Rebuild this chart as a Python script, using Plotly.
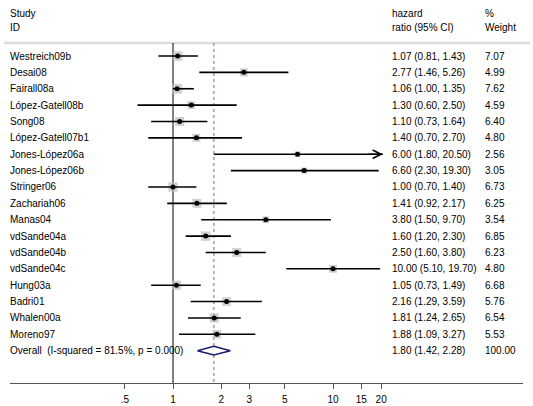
import math
import plotly.graph_objects as go

studies = ["Westreich09b", "Desai08", "Fairall08a", "López-Gatell08b", "Song08",
           "López-Gatell07b1", "Jones-López06a", "Jones-López06b", "Stringer06",
           "Zachariah06", "Manas04", "vdSande04a", "vdSande04b", "vdSande04c",
           "Hung03a", "Badri01", "Whalen00a", "Moreno97"]
hr = [1.07, 2.77, 1.06, 1.30, 1.10, 1.40, 6.00, 6.60, 1.00, 1.41, 3.80, 1.60, 2.50, 10.00,
      1.05, 2.16, 1.81, 1.88]
lo = [0.81, 1.46, 1.00, 0.60, 0.73, 0.70, 1.80, 2.30, 0.70, 0.92, 1.50, 1.20, 1.60, 5.10,
      0.73, 1.29, 1.24, 1.09]
hi = [1.43, 5.26, 1.35, 2.50, 1.64, 2.70, 20.50, 19.30, 1.40, 2.17, 9.70, 2.30, 3.80, 19.70,
      1.49, 3.59, 2.65, 3.27]
weight = [7.07, 4.99, 7.62, 4.59, 6.40, 4.80, 2.56, 3.05, 6.73, 6.25, 3.54, 6.85, 6.23, 4.80,
          6.68, 5.76, 6.54, 5.53]
overall_label = "Overall  (I-squared = 81.5%, p = 0.000)"
overall_hr, overall_lo, overall_hi, overall_w = 1.80, 1.42, 2.28, 100.00
arrow_rows = ["Jones-López06a"]
tick_vals = [0.5, 1, 2, 3, 5, 10, 15, 20]
tick_text = [".5", "1", "2", "3", "5", "10", "15", "20"]

FONT = "Liberation Sans, Arial, sans-serif"
n = len(studies)
rows = list(range(n))
k_over = n
top_line = -0.794
bottom = 19.975

fig = go.Figure()

# reference lines
fig.add_trace(go.Scatter(x=[1, 1], y=[top_line, bottom], mode="lines",
                         line=dict(color="#000000", width=1), hoverinfo="skip", showlegend=False))
fig.add_trace(go.Scatter(x=[overall_hr, overall_hr], y=[top_line, bottom], mode="lines",
                         line=dict(color="#b07482", width=1.2, dash="3px,3px"),
                         hoverinfo="skip", showlegend=False))

# weight boxes
fig.add_trace(go.Scatter(x=hr, y=rows, mode="markers",
                         marker=dict(symbol="square", color="#bdbdbd",
                                     size=[3.6 * math.sqrt(w) for w in weight], line=dict(width=0)),
                         hoverinfo="skip", showlegend=False))

# CI lines
cx, cy = [], []
for i in range(n):
    cx += [lo[i], hi[i], None]
    cy += [i, i, None]
fig.add_trace(go.Scatter(x=cx, y=cy, mode="lines", line=dict(color="#000000", width=1.6),
                         hoverinfo="skip", showlegend=False))

# point estimates
fig.add_trace(go.Scatter(x=hr, y=rows, mode="markers",
                         marker=dict(symbol="circle", color="#000000", size=5),
                         hoverinfo="skip", showlegend=False))

# overall diamond
h = 0.27
fig.add_trace(go.Scatter(x=[overall_lo, overall_hr, overall_hi, overall_hr, overall_lo],
                         y=[k_over, k_over - h, k_over, k_over + h, k_over],
                         mode="lines", fill="toself", fillcolor="#ffffff",
                         line=dict(color="#1a1a6e", width=1.5),
                         hoverinfo="skip", showlegend=False))

ann = []
def px2paper(p):
    return (p - 10) / 513.0

def txt(x, y, s, yref="y"):
    ann.append(dict(x=x, y=y, xref="paper", yref=yref, text=s, showarrow=False,
                    xanchor="left", yanchor="middle", font=dict(family=FONT, size=10, color="#000"),
                    borderpad=0))

# headers
txt(px2paper(9), -2.57, "Study")
txt(px2paper(9), -1.77, "ID")
txt(px2paper(391), -2.57, "hazard")
txt(px2paper(391), -1.77, "ratio (95% CI)")
txt(px2paper(484), -2.57, "%")
txt(px2paper(484), -1.77, "Weight")

for i in range(n):
    txt(px2paper(9), i, studies[i])
    txt(px2paper(391), i, "%.2f (%.2f, %.2f)" % (hr[i], lo[i], hi[i]))
    txt(px2paper(484), i, "%.2f" % weight[i])
txt(px2paper(9), k_over, overall_label)
txt(px2paper(391), k_over, "%.2f (%.2f, %.2f)" % (overall_hr, overall_lo, overall_hi))
txt(px2paper(484), k_over, "%.2f" % overall_w)

# arrows for truncated CIs
for name in arrow_rows:
    i = studies.index(name)
    ann.append(dict(x=math.log10(hi[i]), y=i, xref="x", yref="y",
                    ax=math.log10(hi[i]) - 0.1, ay=i, axref="x", ayref="y",
                    text="", showarrow=True, arrowhead=5, arrowsize=1.1,
                    arrowwidth=1.5, arrowcolor="#000000", standoff=0))

fig.update_layout(
    width=533, height=406,
    margin=dict(l=10, r=10, t=0, b=23),
    paper_bgcolor="#ffffff", plot_bgcolor="#ffffff",
    font=dict(family=FONT, size=10, color="#000"),
    annotations=ann,
    shapes=[dict(type="line", xref="paper", yref="y", x0=-0.012, x1=1.0136,
                 y0=top_line, y1=top_line, line=dict(color="#dcdcdc", width=2.5), layer="below")],
    xaxis=dict(type="log", range=[-1.019, 2.1875], tickvals=tick_vals, ticktext=tick_text,
               showgrid=False, zeroline=False, showline=True, linecolor="#555555", linewidth=1,
               ticks="outside", ticklen=5, tickcolor="#555555", tickwidth=1,
               ticklabelstandoff=2,
               tickfont=dict(family=FONT, size=10, color="#000")),
    yaxis=dict(range=[bottom, -3.421], visible=False, showgrid=False, zeroline=False),
)

fig.write_html("out.html", config={"displayModeBar": False},
               post_script="document.body.style.margin='0';document.body.style.overflow='hidden';")
